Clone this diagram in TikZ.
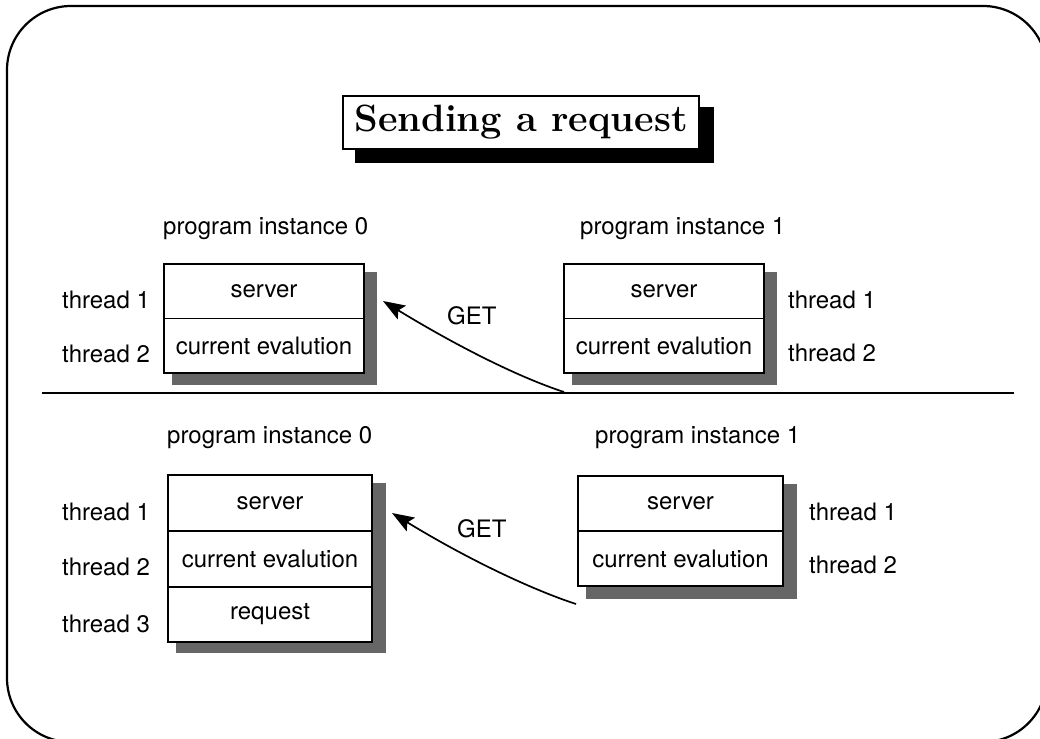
\documentclass[tikz,border=0pt]{standalone}
\usepackage{fontspec}
\newfontfamily\helv{TeX Gyre Heros}
\usetikzlibrary{arrows.meta}
\definecolor{shadowgray}{HTML}{666666}
\begin{document}
\begin{tikzpicture}[x=1pt,y=-1pt,
  cell/.style={draw, line width=1.8pt, inner sep=0pt, font=\helv\fontsize{24}{28}\selectfont},
  lbl/.style={inner sep=0pt, anchor=base west, font=\helv\fontsize{24}{28}\selectfont},
  shadowbox/.style={fill=shadowgray},
  getarrow/.style={-{Stealth[length=22pt,width=16pt,inset=4pt]}, line width=1.7pt}]
\clip (0,0) rectangle (1040,738);
\fill[white] (0,0) rectangle (1040,738);
\draw[line width=2.2pt, rounded corners=64pt] (7,6) rectangle (1047,742);

% title
\fill[black] (355,107) rectangle (714,163);
\node[draw, line width=2.6pt, fill=white, minimum width=356pt, minimum height=53pt, inner sep=0pt] (title) at (521,122.5) {\fontsize{38}{40}\selectfont\bfseries Sending a request};

% top half
\fill[shadowbox] (172,272) rectangle (377,385);
\fill[white] (164,264) rectangle (364,373);
\node[cell, minimum width=200pt, minimum height=54.5pt] (a1) at (264,291.25) {server};
\node[cell, minimum width=200pt, minimum height=54.5pt] (a2) at (264,345.75) {current evalution};

\fill[shadowbox] (572,272) rectangle (777,385);
\fill[white] (564,264) rectangle (764,373);
\node[cell, minimum width=200pt, minimum height=54.5pt] (b1) at (664,291.25) {server};
\node[cell, minimum width=200pt, minimum height=54.5pt] (b2) at (664,345.75) {current evalution};

\node[lbl] (p0t) at (163,234) {program instance 0};
\node[lbl] (p1t) at (580,234) {program instance 1};
\node[lbl] (t1l) at (62,308) {thread 1};
\node[lbl] (t2l) at (62,362) {thread 2};
\node[lbl] (t1r) at (788,308) {thread 1};
\node[lbl] (t2r) at (788,361) {thread 2};
\node[lbl] (get1) at (447,324) {GET};

\coordinate (s1) at (564,392);
\coordinate (e1) at (383,301);
\draw[getarrow] (s1) .. controls (521,378) and (460,348) .. (e1);

% separator
\coordinate (hl) at (42,393);
\coordinate (hr) at (1014,393);
\draw[line width=2.4pt] (hl) -- (hr);

% bottom half
\fill[shadowbox] (176,483) rectangle (386,653);
\fill[white] (168,475) rectangle (372,642);
\node[cell, minimum width=204pt, minimum height=56pt] (c1) at (270,503) {server};
\node[cell, minimum width=204pt, minimum height=56pt] (c2) at (270,559) {current evalution};
\node[cell, minimum width=204pt, minimum height=55pt] (c3) at (270,614.5) {request};

\fill[shadowbox] (586,484) rectangle (797,599);
\fill[white] (578,476) rectangle (783,586);
\node[cell, minimum width=205pt, minimum height=55pt] (d1) at (680.5,503.5) {server};
\node[cell, minimum width=205pt, minimum height=55pt] (d2) at (680.5,558.5) {current evalution};

\node[lbl] (p0b) at (167,443) {program instance 0};
\node[lbl] (p1b) at (595,443) {program instance 1};
\node[lbl] (u1l) at (62,520) {thread 1};
\node[lbl] (u2l) at (62,575) {thread 2};
\node[lbl] (u3l) at (62,632) {thread 3};
\node[lbl] (u1r) at (809,520) {thread 1};
\node[lbl] (u2r) at (809,573) {thread 2};
\node[lbl] (get2) at (457,537) {GET};

\coordinate (s2) at (576,604);
\coordinate (e2) at (392,513);
\draw[getarrow] (s2) .. controls (533,590) and (469,560) .. (e2);
\end{tikzpicture}
\end{document}
